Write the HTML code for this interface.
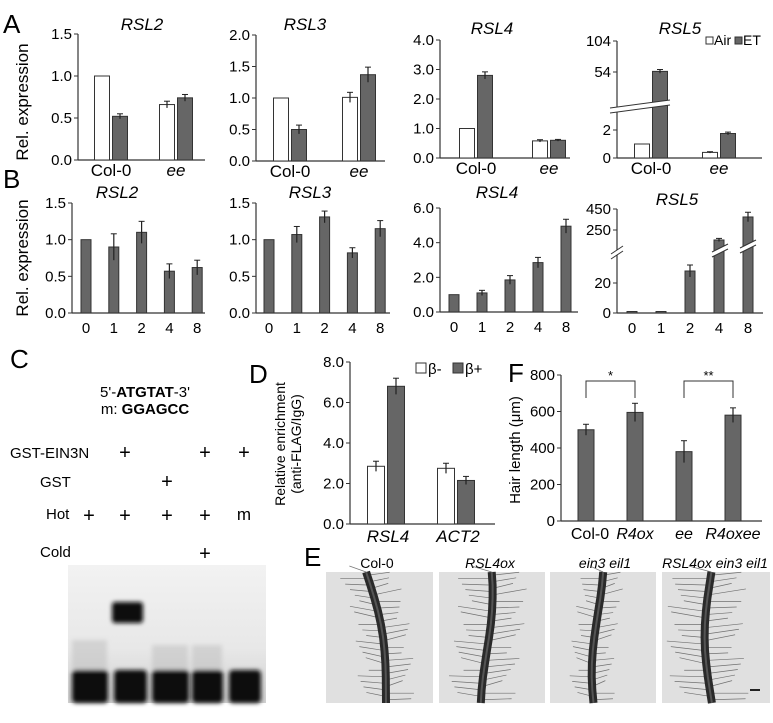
<!DOCTYPE html>
<html><head><meta charset="utf-8"><style>
html,body{margin:0;padding:0;background:#fff;}
svg{display:block;font-family:"Liberation Sans Narrow","Liberation Sans",sans-serif;}
</style></head><body>
<svg id="fig" width="773" height="723" viewBox="0 0 773 723" xmlns="http://www.w3.org/2000/svg">
<defs>
<linearGradient id="gelbg" x1="0" y1="0" x2="0" y2="1"><stop offset="0" stop-color="#f2f2f2"/><stop offset="0.6" stop-color="#e8e8e8"/><stop offset="1" stop-color="#d0d0d0"/></linearGradient>
<filter id="blur2"><feGaussianBlur stdDeviation="2"/></filter>
</defs>
<g id="static">
<text x="3" y="33" font-size="26">A</text>
<text x="3" y="188" font-size="26">B</text>
<text transform="translate(28,102) rotate(-90)" text-anchor="middle" font-size="17">Rel. expression</text>
<text transform="translate(28,258) rotate(-90)" text-anchor="middle" font-size="17">Rel. expression</text>
<g font-size="14">
<rect x="706" y="37" width="7" height="7" fill="#fff" stroke="#333"/><text x="714" y="45">Air</text>
<rect x="735" y="37" width="7" height="7" fill="#666" stroke="#333"/><text x="743" y="45">ET</text>
</g>
<text x="10" y="368" font-size="26">C</text>
<text x="145" y="397" text-anchor="middle" font-size="15">5'-<tspan font-weight="bold">ATGTAT</tspan>-3'</text>
<text x="145" y="414" text-anchor="middle" font-size="15">m: <tspan font-weight="bold">GGAGCC</tspan></text>
<g font-size="15">
<text x="10" y="458">GST-EIN3N</text>
<text x="40" y="487">GST</text>
<text x="46" y="519">Hot</text>
<text x="40" y="557">Cold</text>
</g>
<g font-size="20" text-anchor="middle">
<text x="125" y="459">+</text><text x="205" y="459">+</text><text x="244" y="459">+</text>
<text x="167" y="488">+</text>
<text x="89" y="522">+</text><text x="125" y="522">+</text><text x="167" y="522">+</text><text x="205" y="522">+</text><text x="244" y="520" font-size="17">m</text>
<text x="205" y="560">+</text>
</g>
<g>
<rect x="68" y="565" width="198" height="138" fill="url(#gelbg)"/>
<g filter="url(#blur2)" fill="#111">
<rect x="72" y="670" width="36" height="33" rx="4"/>
<rect x="114" y="670" width="33" height="33" rx="4"/>
<rect x="152" y="670" width="37" height="33" rx="4"/>
<rect x="192" y="670" width="31" height="33" rx="4"/>
<rect x="229" y="670" width="32" height="33" rx="4"/>
<rect x="112" y="602" width="31" height="21" rx="3"/>
<rect x="72" y="640" width="35" height="30" fill="#bbb" opacity="0.5"/>
<rect x="152" y="645" width="36" height="25" fill="#bbb" opacity="0.5"/>
<rect x="192" y="645" width="30" height="25" fill="#bbb" opacity="0.5"/>
</g>
</g>
<text x="249" y="383" font-size="26">D</text>
<text transform="translate(285,444) rotate(-90)" text-anchor="middle" font-size="14">Relative enrichment</text>
<text transform="translate(301,444) rotate(-90)" text-anchor="middle" font-size="14">(anti-FLAG/IgG)</text>
<g font-size="15">
<rect x="416" y="363" width="10" height="10" fill="#fff" stroke="#333"/><text x="428" y="374">β-</text>
<rect x="453" y="363" width="10" height="10" fill="#666" stroke="#333"/><text x="465" y="374">β+</text>
</g>
<text x="508" y="382" font-size="26">F</text>
<text transform="translate(520,450) rotate(-90)" text-anchor="middle" font-size="15">Hair length (μm)</text>
<text x="304" y="566" font-size="26">E</text>
<g font-size="14" text-anchor="middle" font-style="italic">
<text x="377" y="568" font-style="normal">Col-0</text>
<text x="490" y="568">RSL4ox</text>
<text x="605" y="568">ein3 eil1</text>
<text x="715" y="568">RSL4ox ein3 eil1</text>
</g>
</g>
<g id="dyn"></g>
</svg>
<script>
// ---- Panel A data ----
var aCats = ["Col-0", "ee"];
var aRSL2Air = [1.0, 0.66], aRSL2AirErr = [0, 0.04];
var aRSL2ET = [0.52, 0.74], aRSL2ETErr = [0.03, 0.04];
var aRSL3Air = [1.0, 1.01], aRSL3AirErr = [0, 0.08];
var aRSL3ET = [0.50, 1.37], aRSL3ETErr = [0.07, 0.12];
var aRSL4Air = [1.0, 0.58], aRSL4AirErr = [0, 0.04];
var aRSL4ET = [2.8, 0.60], aRSL4ETErr = [0.12, 0.03];
var aRSL5Air = [1.0, 0.4], aRSL5AirErr = [0, 0.05];
var aRSL5ET = [55, 1.75], aRSL5ETErr = [3, 0.1];
var aTicksRSL2 = ["0.0","0.5","1.0","1.5"];
var aTicksRSL3 = ["0.0","0.5","1.0","1.5","2.0"];
var aTicksRSL4 = ["0.0","1.0","2.0","3.0","4.0"];
var aTicksRSL5 = ["0","2","54","104"];
// ---- Panel B data ----
var bCats = ["0","1","2","4","8"];
var bRSL2 = [1.0, 0.9, 1.1, 0.57, 0.62], bRSL2Err = [0, 0.18, 0.15, 0.1, 0.1];
var bRSL3 = [1.0, 1.07, 1.31, 0.82, 1.15], bRSL3Err = [0, 0.11, 0.08, 0.07, 0.11];
var bRSL4 = [1.0, 1.1, 1.85, 2.85, 4.95], bRSL4Err = [0, 0.15, 0.25, 0.3, 0.4];
var bRSL5 = [1, 1, 28, 155, 374], bRSL5Err = [0, 0, 4, 15, 45];
var bTicksRSL2 = ["0.0","0.5","1.0","1.5"];
var bTicksRSL4 = ["0.0","2.0","4.0","6.0"];
var bTicksRSL5 = ["0","20","250","450"];
// ---- Panel D data ----
var dCats = ["RSL4", "ACT2"];
var dMinus = [2.85, 2.75], dMinusErr = [0.25, 0.25];
var dPlus = [6.8, 2.15], dPlusErr = [0.4, 0.2];
var dTicks = ["0.0","2.0","4.0","6.0","8.0"];
// ---- Panel F data ----
var fCats = ["Col-0", "R4ox", "ee", "R4oxee"];
var fItalic = [false, true, true, true];
var fVals = [500, 595, 380, 580], fErr = [30, 50, 60, 40];
var fTicks = ["0","200","400","600","800"];
var fSig = ["*", "**"];

var NS = "http://www.w3.org/2000/svg";
var root = document.getElementById("dyn");
function mk(tag, attrs, parent) {
  var e = document.createElementNS(NS, tag);
  for (var k in attrs) e.setAttribute(k, attrs[k]);
  (parent || root).appendChild(e);
  return e;
}
function linScale(vmin, vmax, y0, y1) { return function (v) { return y0 + (v - vmin) / (vmax - vmin) * (y1 - y0); }; }
function txt(x, y, s, size, anchor, parent, italic) {
  var t = mk("text", {x: x, y: y, "font-size": size, "text-anchor": anchor || "middle"}, parent);
  if (italic) t.setAttribute("font-style", "italic");
  t.textContent = s;
  return t;
}
function axes(g, ax, yTop, yBot, xEnd, ticks, ysc, tickVals, fs) {
  mk("line", {x1: ax, y1: yTop, x2: ax, y2: yBot, stroke: "#333", "stroke-width": 1.2}, g);
  mk("line", {x1: ax, y1: yBot, x2: xEnd, y2: yBot, stroke: "#333", "stroke-width": 1.2}, g);
  for (var i = 0; i < ticks.length; i++) {
    var y = ysc(tickVals[i]);
    mk("line", {x1: ax - 4, y1: y, x2: ax, y2: y, stroke: "#333"}, g);
    var t = txt(ax - 6, y + 5, ticks[i], fs || 15, "end", g);
    
    
  }
}
function bar(g, cx, w, v, err, ysc, yBot, fill, name) {
  var yt = ysc(v);
  var r = mk("rect", {x: cx - w / 2, y: yt, width: w, height: yBot - yt, fill: fill, stroke: "#333", "stroke-width": 1}, g);
  
  
  if (err > 0) {
    mk("line", {x1: cx, y1: ysc(v + err), x2: cx, y2: ysc(v - err), stroke: "#222", "stroke-width": 1.2}, g);
    mk("line", {x1: cx - 3, y1: ysc(v + err), x2: cx + 3, y2: ysc(v + err), stroke: "#222"}, g);
  }
  return r;
}
function panelA(name, ax, yTop, yBot, xEnd, ysc, ticks, tickVals, air, airE, et, etE, centers, title, tx, ty) {
  var g = mk("g", {});
  
  
  axes(g, ax, yTop, yBot, xEnd, ticks, ysc, tickVals);
  for (var i = 0; i < aCats.length; i++) {
    bar(g, centers[i] - 9, 15, air[i], airE[i], ysc, yBot, "#fff", "bar-air-" + aCats[i]);
    bar(g, centers[i] + 9, 15, et[i], etE[i], ysc, yBot, "#666", "bar-et-" + aCats[i]);
    var t = txt(centers[i], yBot + 16, aCats[i], 17, "middle", g, i === 1);
    
    
  }
  var tt = txt(tx, ty, title, 17, "middle", g, true);
  
  
  return g;
}
function panelB(name, ax, yTop, yBot, xEnd, ysc, ticks, tickVals, vals, errs, centers, title, tx, ty) {
  var g = mk("g", {});
  
  
  axes(g, ax, yTop, yBot, xEnd, ticks, ysc, tickVals);
  for (var i = 0; i < bCats.length; i++) {
    bar(g, centers[i], 10, vals[i], errs[i], ysc, yBot, "#666", "bar-day-" + bCats[i]);
    var t = txt(centers[i], yBot + 20, bCats[i], 15, "middle", g);
    
    
  }
  var tt = txt(tx, ty, title, 17, "middle", g, true);
  
  
  return g;
}
function centersFrom(start, step, n) { var a = []; for (var i = 0; i < n; i++) a.push(start + i * step); return a; }
function breakMark(g, x1, x2, y) {
  mk("polygon", {points: (x1) + "," + (y + 4) + " " + (x2) + "," + (y - 4) + " " + (x2) + "," + (y + 1) + " " + (x1) + "," + (y + 9), fill: "#fff"}, g);
  mk("line", {x1: x1, y1: y + 4, x2: x2, y2: y - 4, stroke: "#333"}, g);
  mk("line", {x1: x1, y1: y + 9, x2: x2, y2: y + 1, stroke: "#333"}, g);
}

panelA("a-rsl2-chart", 78, 34, 160, 205, linScale(0, 1.5, 160, 34), aTicksRSL2, [0, 0.5, 1, 1.5], aRSL2Air, aRSL2AirErr, aRSL2ET, aRSL2ETErr, [111, 176], "RSL2", 142, 30);
panelA("a-rsl3-chart", 256, 35, 161, 385, linScale(0, 2, 161, 35), aTicksRSL3, [0, 0.5, 1, 1.5, 2], aRSL3Air, aRSL3AirErr, aRSL3ET, aRSL3ETErr, [290, 359], "RSL3", 305, 30);
panelA("a-rsl4-chart", 440, 40, 158, 570, linScale(0, 4, 158, 40), aTicksRSL4, [0, 1, 2, 3, 4], aRSL4Air, aRSL4AirErr, aRSL4ET, aRSL4ETErr, [476, 549], "RSL4", 492, 34);
var a5 = function (v) { return v <= 4 ? 158 - 14 * v : 72 - (v - 54) * 0.62; };
var gA5 = panelA("a-rsl5-chart", 617, 41, 158, 762, a5, aTicksRSL5, [0, 2, 54, 104], aRSL5Air, aRSL5AirErr, aRSL5ET, aRSL5ETErr, [651, 719], "RSL5", 680, 34);
breakMark(gA5, 610, 670, 104);

panelB("b-rsl2-chart", 72, 203, 313, 205, linScale(0, 1.5, 313, 203), bTicksRSL2, [0, 0.5, 1, 1.5], bRSL2, bRSL2Err, centersFrom(86, 27.8, 5), "RSL2", 117, 198);
panelB("b-rsl3-chart", 256, 203, 313, 390, linScale(0, 1.5, 313, 203), bTicksRSL2, [0, 0.5, 1, 1.5], bRSL3, bRSL3Err, centersFrom(269, 27.8, 5), "RSL3", 310, 198);
panelB("b-rsl4-chart", 440, 208, 312, 578, linScale(0, 6, 312, 208), bTicksRSL4, [0, 2, 4, 6], bRSL4, bRSL4Err, centersFrom(454, 28, 5), "RSL4", 497, 198);
var b5 = function (v) { return v <= 40 ? 313 - 1.5 * v : 230 - (v - 250) * 0.105; };
var gB5 = panelB("b-rsl5-chart", 617, 209, 313, 763, b5, bTicksRSL5, [0, 20, 250, 450], bRSL5, bRSL5Err, centersFrom(632, 29, 5), "RSL5", 677, 205);
breakMark(gB5, 611, 623, 250);
breakMark(gB5, 712, 728, 248);
breakMark(gB5, 740, 756, 244);

(function () {
  var g = mk("g", {});
  
  
  var ys = linScale(0, 8, 524, 362);
  axes(g, 350, 362, 524, 495, dTicks, ys, [0, 2, 4, 6, 8], 15);
  var cs = [386, 456];
  for (var i = 0; i < dCats.length; i++) {
    bar(g, cs[i] - 10, 17, dMinus[i], dMinusErr[i], ys, 524, "#fff", "bar-beta-minus-" + dCats[i]);
    bar(g, cs[i] + 10, 17, dPlus[i], dPlusErr[i], ys, 524, "#666", "bar-beta-plus-" + dCats[i]);
    var t = txt(cs[i] + 2, 542, dCats[i], 17, "middle", g, true);
    
    
  }
})();

(function () {
  var g = mk("g", {});
  
  
  var ys = linScale(0, 800, 521, 375);
  axes(g, 561, 375, 521, 762, fTicks, ys, [0, 200, 400, 600, 800], 15);
  var cs = [586, 635, 684, 733];
  for (var i = 0; i < fCats.length; i++) {
    bar(g, cs[i], 16, fVals[i], fErr[i], ys, 521, "#666", "bar-" + fCats[i]);
    var t = txt(cs[i] + (i === 0 ? 4 : 0), 539, fCats[i], 16, "middle", g, fItalic[i]);
    
    
  }
  var pairs = [[0, 1], [2, 3]];
  for (var p = 0; p < pairs.length; p++) {
    var x1 = cs[pairs[p][0]], x2 = cs[pairs[p][1]];
    var br = mk("path", {d: "M" + x1 + ",398 V381 H" + x2 + " V398", fill: "none", stroke: "#333"}, g);
    
    
    var s = txt((x1 + x2) / 2, 380, fSig[p], 13, "middle", g);
    
    
  }
})();

(function () {
  var boxes = [[326, 107, 0], [439, 106, 1], [550, 106, 2], [662, 108, 3]];
  var hairLen = [28, 34, 22, 38];
  for (var b = 0; b < boxes.length; b++) {
    var g = mk("g", {});
    
    
    var x = boxes[b][0], w = boxes[b][1];
    mk("rect", {x: x, y: 572, width: w, height: 131, fill: "#e0e0e0"}, g);
    var cx = x + w * 0.45;
    var pts = [];
    for (var k = 0; k <= 10; k++) {
      var yy = 572 + k * 13.1;
      var xx = cx + Math.sin(k * 0.35 + b) * 6 + (b === 0 ? k * 2.2 - 8 : 0);
      pts.push([xx, yy]);
    }
    var hg = mk("g", {stroke: "#555", "stroke-width": 0.7, opacity: 0.8}, g);
    for (var k = 0; k < 40; k++) {
      var t = k / 40, idx = Math.floor(t * 10);
      var px = pts[idx][0] + (pts[idx + 1][0] - pts[idx][0]) * (t * 10 - idx);
      var py = 572 + t * 131;
      var dir = k % 2 ? 1 : -1;
      var L = hairLen[b] * (0.6 + 0.4 * ((k * 7) % 5) / 4);
      mk("line", {x1: px, y1: py, x2: px + dir * L, y2: py - 6 + ((k * 3) % 7)}, hg);
    }
    var d = "M" + pts.map(function (p) { return p[0].toFixed(1) + "," + p[1].toFixed(1); }).join(" L");
    mk("path", {d: d, fill: "none", stroke: "#2a2a2a", "stroke-width": 8}, g);
    mk("path", {d: d, fill: "none", stroke: "#555", "stroke-width": 2}, g);
  }
  mk("line", {x1: 750, y1: 690, x2: 760, y2: 690, stroke: "#222", "stroke-width": 2});
})();
</script>
</body></html>
